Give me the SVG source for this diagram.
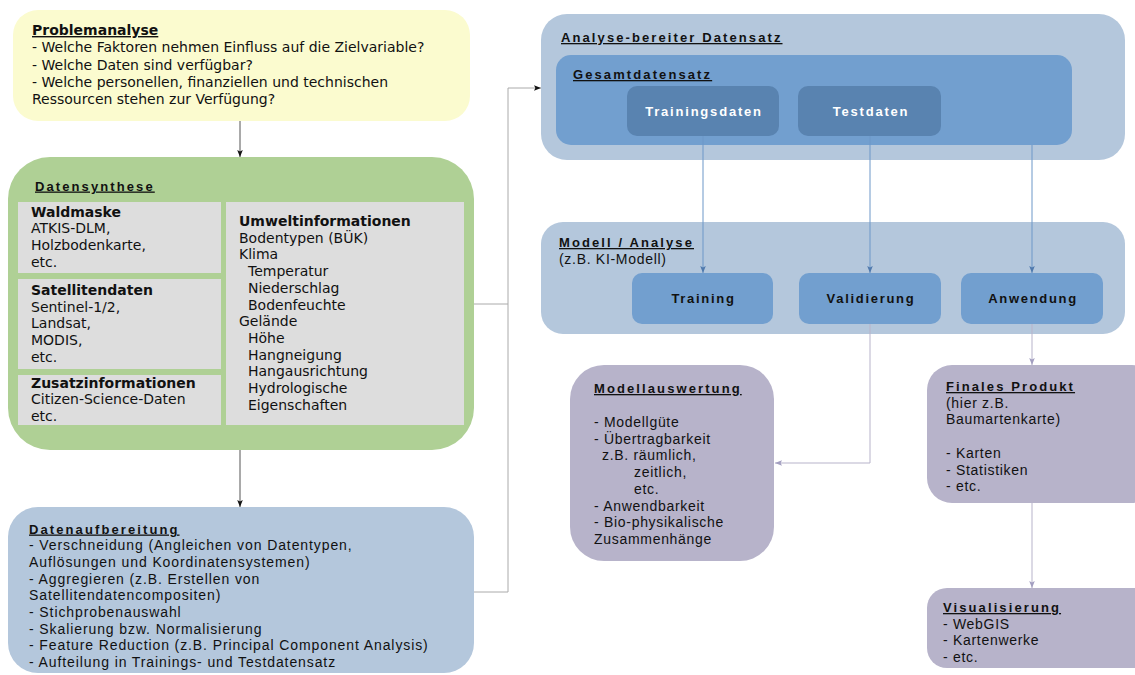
<svg xmlns="http://www.w3.org/2000/svg" width="1135" height="675" viewBox="0 0 1135 675">
  <defs>
    <style>
      .dv { font-family: "DejaVu Sans", sans-serif; font-size: 14px; fill: #111; }
      .dvb { font-family: "DejaVu Sans", sans-serif; font-size: 14px; font-weight: bold; fill: #111; }
      .hv { font-family: "Liberation Sans", Arial, sans-serif; font-size: 14px; letter-spacing: 0.7px; fill: #111; }
      .hv9 { letter-spacing: 0.9px; }
      .hvt { font-family: "Liberation Sans", Arial, sans-serif; font-size: 13px; font-weight: bold; letter-spacing: 2.1px; fill: #111; text-decoration: underline; }
      .hvb { font-family: "Liberation Sans", Arial, sans-serif; font-size: 13px; font-weight: bold; letter-spacing: 1.7px; fill: #111; text-anchor: middle; }
      .hvw { font-family: "Liberation Sans", Arial, sans-serif; font-size: 13px; font-weight: bold; letter-spacing: 1.8px; fill: #fff; text-anchor: middle; }
      .ul { text-decoration: underline; }
      .grey { fill: #dddddd; }
      .c-dark { fill: none; stroke: #555; stroke-width: 1; }
      .c-grey { fill: none; stroke: #aaa; stroke-width: 1; }
      .c-blue { fill: none; stroke: #6d97c8; stroke-width: 1; }
      .c-lav { fill: none; stroke: #b7b3ca; stroke-width: 1; }
    </style>
    <marker id="ah-dark" viewBox="0 0 10 10" refX="10" refY="5" markerWidth="7" markerHeight="7" markerUnits="userSpaceOnUse" orient="auto">
      <path d="M0,1 L10,5 L0,9 L2,5 z" fill="#111"/>
    </marker>
    <marker id="ah-blue" viewBox="0 0 10 10" refX="10" refY="5" markerWidth="7" markerHeight="7" markerUnits="userSpaceOnUse" orient="auto">
      <path d="M0,1 L10,5 L0,9 L2,5 z" fill="#4f79ad"/>
    </marker>
    <marker id="ah-lav" viewBox="0 0 10 10" refX="10" refY="5" markerWidth="7" markerHeight="7" markerUnits="userSpaceOnUse" orient="auto">
      <path d="M0,1 L10,5 L0,9 L2,5 z" fill="#a29ec0"/>
    </marker>
  </defs>

  <rect width="1135" height="675" fill="#ffffff"/>

  <!-- Problemanalyse -->
  <g id="problemanalyse">
    <rect x="13" y="10" width="457" height="111" rx="25" fill="#fbfbcf"/>
    <text class="dvb ul" x="32" y="35">Problemanalyse</text>
    <text class="dv" x="32" y="52.3">- Welche Faktoren nehmen Einfluss auf die Zielvariable?</text>
    <text class="dv" x="32" y="69.6">- Welche Daten sind verfügbar?</text>
    <text class="dv" x="32" y="86.9">- Welche personellen, finanziellen und technischen</text>
    <text class="dv" x="32" y="104.2">Ressourcen stehen zur Verfügung?</text>
  </g>

  <!-- Datensynthese -->
  <g id="datensynthese">
    <rect x="8" y="157" width="466" height="293" rx="42" fill="#afd095"/>
    <text class="hvt" x="35" y="190.5">Datensynthese</text>
  </g>
  <g id="waldmaske">
    <rect class="grey" x="18" y="202" width="203" height="71"/>
    <text class="dvb" x="31" y="216.7">Waldmaske</text>
    <text class="dv" x="31" y="233.4">ATKIS-DLM,</text>
    <text class="dv" x="31" y="250.1">Holzbodenkarte,</text>
    <text class="dv" x="31" y="266.8">etc.</text>
  </g>
  <g id="satellitendaten">
    <rect class="grey" x="18" y="279" width="203" height="90"/>
    <text class="dvb" x="31" y="295">Satellitendaten</text>
    <text class="dv" x="31" y="311.7">Sentinel-1/2,</text>
    <text class="dv" x="31" y="328.4">Landsat,</text>
    <text class="dv" x="31" y="345.1">MODIS,</text>
    <text class="dv" x="31" y="361.8">etc.</text>
  </g>
  <g id="zusatzinformationen">
    <rect class="grey" x="18" y="375" width="203" height="50"/>
    <text class="dvb" x="31" y="387.5">Zusatzinformationen</text>
    <text class="dv" x="31" y="404.2">Citizen-Science-Daten</text>
    <text class="dv" x="31" y="420.9">etc.</text>
  </g>
  <g id="umweltinformationen">
    <rect class="grey" x="226" y="202" width="238" height="223"/>
    <text class="dvb" x="239" y="226">Umweltinformationen</text>
    <text class="dv" x="239" y="242.7">Bodentypen (BÜK)</text>
    <text class="dv" x="239" y="259.4">Klima</text>
    <text class="dv" x="248" y="276.1">Temperatur</text>
    <text class="dv" x="248" y="292.8">Niederschlag</text>
    <text class="dv" x="248" y="309.5">Bodenfeuchte</text>
    <text class="dv" x="239" y="326.2">Gelände</text>
    <text class="dv" x="248" y="342.9">Höhe</text>
    <text class="dv" x="248" y="359.6">Hangneigung</text>
    <text class="dv" x="248" y="376.3">Hangausrichtung</text>
    <text class="dv" x="248" y="393">Hydrologische</text>
    <text class="dv" x="248" y="409.7">Eigenschaften</text>
  </g>

  <!-- Datenaufbereitung -->
  <g id="datenaufbereitung">
    <rect x="8" y="507" width="466" height="166" rx="30" fill="#b4c7dc"/>
    <text class="hvt" x="29" y="533.5">Datenaufbereitung</text>
    <text class="hv hv9" x="29" y="550.2">- Verschneidung (Angleichen von Datentypen,</text>
    <text class="hv hv9" x="29" y="566.9">Auflösungen und Koordinatensystemen)</text>
    <text class="hv hv9" x="29" y="583.6">- Aggregieren (z.B. Erstellen von</text>
    <text class="hv hv9" x="29" y="600.3">Satellitendatencompositen)</text>
    <text class="hv hv9" x="29" y="617">- Stichprobenauswahl</text>
    <text class="hv hv9" x="29" y="633.7">- Skalierung bzw. Normalisierung</text>
    <text class="hv hv9" x="29" y="650.4">- Feature Reduction (z.B. Principal Component Analysis)</text>
    <text class="hv hv9" x="29" y="667.1">- Aufteilung in Trainings- und Testdatensatz</text>
  </g>

  <!-- Analyse-bereiter Datensatz -->
  <g id="analyse-bereiter-datensatz">
    <rect x="541" y="14" width="584" height="146" rx="26" fill="#b4c7dc"/>
    <text class="hvt" x="561" y="42">Analyse-bereiter Datensatz</text>
  </g>
  <g id="gesamtdatensatz">
    <rect x="556" y="55" width="516" height="90" rx="15" fill="#729fcf"/>
    <text class="hvt" x="573" y="79">Gesamtdatensatz</text>
  </g>
  <g id="trainingsdaten">
    <rect x="627" y="86" width="152" height="50" rx="10" fill="#5983b0"/>
    <text class="hvw" x="704" y="116">Trainingsdaten</text>
  </g>
  <g id="testdaten">
    <rect x="798" y="86" width="143" height="50" rx="10" fill="#5983b0"/>
    <text class="hvw" x="871" y="116">Testdaten</text>
  </g>

  <!-- Modell / Analyse -->
  <g id="modell-analyse">
    <rect x="541" y="222" width="584" height="112" rx="22" fill="#b4c7dc"/>
    <text class="hvt" x="559" y="247">Modell / Analyse</text>
    <text class="hv" x="559" y="264" fill="#333">(z.B. KI-Modell)</text>
  </g>
  <g id="training">
    <rect x="632" y="273" width="141" height="51" rx="10" fill="#729fcf"/>
    <text class="hvb" x="703.5" y="303">Training</text>
  </g>
  <g id="validierung">
    <rect x="799" y="273" width="142" height="51" rx="10" fill="#729fcf"/>
    <text class="hvb" x="871" y="303">Validierung</text>
  </g>
  <g id="anwendung">
    <rect x="961" y="273" width="142" height="51" rx="10" fill="#729fcf"/>
    <text class="hvb" x="1033" y="303">Anwendung</text>
  </g>

  <!-- Modellauswertung -->
  <g id="modellauswertung">
    <rect x="570" y="365" width="204" height="196" rx="34" fill="#b7b3ca"/>
    <text class="hvt" x="594" y="393">Modellauswertung</text>
    <text class="hv" x="594" y="427">- Modellgüte</text>
    <text class="hv" x="594" y="443.7">- Übertragbarkeit</text>
    <text class="hv" x="602" y="460.4">z.B. räumlich,</text>
    <text class="hv" x="634" y="477.1">zeitlich,</text>
    <text class="hv" x="634" y="493.8">etc.</text>
    <text class="hv" x="594" y="510.5">- Anwendbarkeit</text>
    <text class="hv" x="594" y="527.2">- Bio-physikalische</text>
    <text class="hv" x="594" y="543.9">Zusammenhänge</text>
  </g>

  <!-- Finales Produkt -->
  <g id="finales-produkt">
    <rect x="927" y="365" width="230" height="138" rx="25" fill="#b7b3ca"/>
    <text class="hvt" x="946" y="391">Finales Produkt</text>
    <text class="hv" x="946" y="407.7">(hier z.B.</text>
    <text class="hv" x="946" y="424.4">Baumartenkarte)</text>
    <text class="hv" x="946" y="457.8">- Karten</text>
    <text class="hv" x="946" y="474.5">- Statistiken</text>
    <text class="hv" x="946" y="491.2">- etc.</text>
  </g>

  <!-- Visualisierung -->
  <g id="visualisierung">
    <rect x="927" y="588" width="230" height="80" rx="20" fill="#b7b3ca"/>
    <text class="hvt" x="943" y="612">Visualisierung</text>
    <text class="hv" x="943" y="628.7">- WebGIS</text>
    <text class="hv" x="943" y="645.4">- Kartenwerke</text>
    <text class="hv" x="943" y="662.1">- etc.</text>
  </g>

  <!-- connectors, drawn over the container boxes -->
  <g id="connectors">
    <path class="c-dark" d="M240,121 V157" marker-end="url(#ah-dark)"/>
    <path class="c-dark" d="M240,450 V507" marker-end="url(#ah-dark)"/>
    <path class="c-grey" d="M474,304 H508"/>
    <path class="c-grey" d="M474,592 H508 V88 H541" marker-end="url(#ah-dark)"/>
    <path class="c-blue" d="M703,136 V273" marker-end="url(#ah-blue)"/>
    <path class="c-blue" d="M870,136 V273" marker-end="url(#ah-blue)"/>
    <path class="c-blue" d="M1032,145 V273" marker-end="url(#ah-blue)"/>
    <path class="c-lav" d="M870,324 V463 H775" marker-end="url(#ah-lav)"/>
    <path class="c-lav" d="M1032,324 V365" marker-end="url(#ah-lav)"/>
    <path class="c-lav" d="M1032,503 V588" marker-end="url(#ah-lav)"/>
  </g>
</svg>
